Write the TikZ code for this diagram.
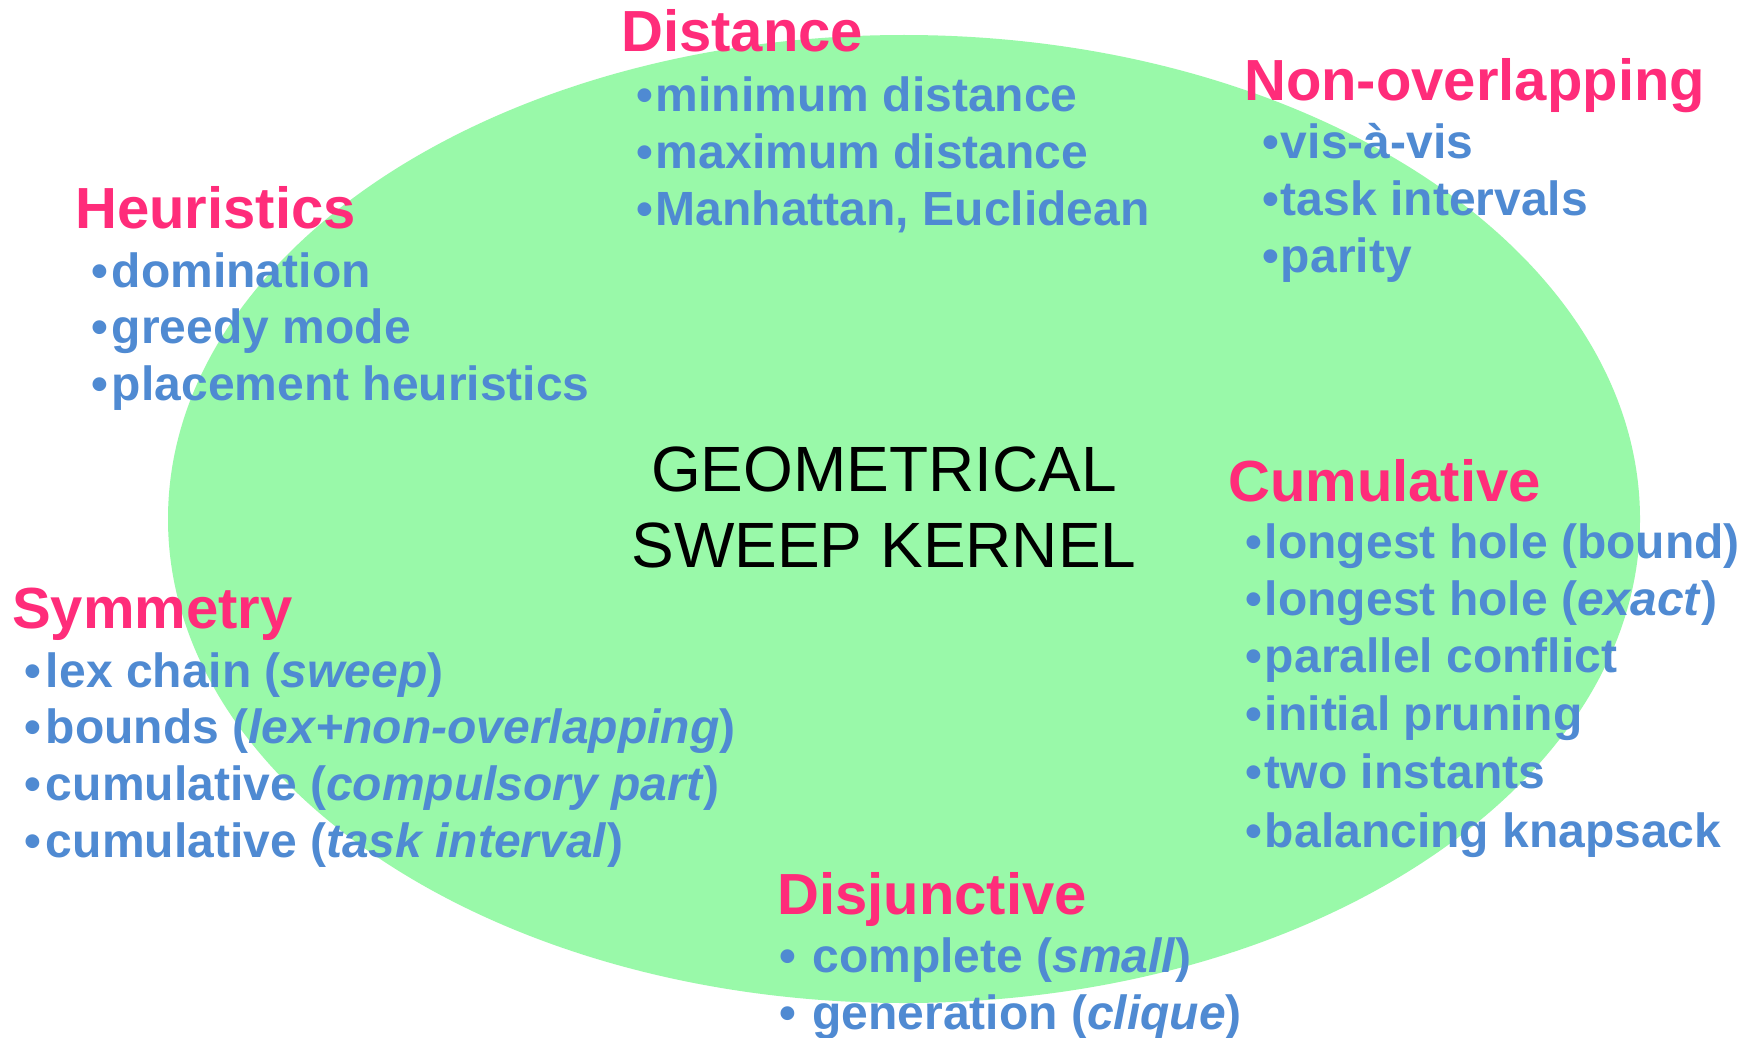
\documentclass[tikz,border=0pt]{standalone}
\usepackage{fontspec}
\setmainfont{Liberation Sans}
\definecolor{headpink}{HTML}{FF2C7A}
\definecolor{itemblue}{HTML}{4F8AD2}
\definecolor{kernelgreen}{HTML}{99F9A9}
% bullet followed by a small gap
\newcommand\itemdot[1]{•\kern#1pt\relax}
\tikzset{
  head/.style={anchor=base west, inner sep=0pt, text=headpink,
    font=\fontsize{58}{60}\selectfont\bfseries},
  item/.style={anchor=base west, inner sep=0pt, text=itemblue,
    font=\fontsize{48}{50}\selectfont\bfseries},
  kernel/.style={anchor=base, inner sep=0pt, text=black,
    font=\fontsize{64}{76}\selectfont}
}
\begin{document}
\begin{tikzpicture}[x=1pt,y=-1pt]
\useasboundingbox (0,0) rectangle (1748,1038);
\fill[white] (0,0) rectangle (1748,1038);

% kernel region
\fill[kernelgreen] (904,519) ellipse [x radius=736pt, y radius=484pt];

% centre title
\node[kernel] (k1) at (884,491) {GEOMETRICAL};
\node[kernel] (k2) at (884,567) {SWEEP KERNEL};

% Distance
\node[head] (dist) at (621,52) {Distance};
\node[item] (dist1) at (636,112) {\itemdot{3}minimum distance};
\node[item] (dist2) at (636,168) {\itemdot{3}maximum distance};
\node[item] (dist3) at (636,225) {\itemdot{3}Manhattan, Euclidean};

% Non-overlapping
\node[head] (nonov) at (1244,101) {Non-overlapping};
\node[item] (nonov1) at (1262,158) {\itemdot{2}vis-à-vis};
\node[item] (nonov2) at (1262,215) {\itemdot{2}task intervals};
\node[item] (nonov3) at (1262,272) {\itemdot{2}parity};

% Heuristics
\node[head] (heur) at (75,228) {Heuristics};
\node[item] (heur1) at (91,287) {\itemdot{4}domination};
\node[item] (heur2) at (91,343) {\itemdot{4}greedy mode};
\node[item] (heur3) at (91,400) {\itemdot{4}placement heuristics};

% Symmetry
\node[head] (sym) at (12,628) {Symmetry};
\node[item] (sym1) at (24,687) {\itemdot{5}lex chain (\textit{sweep})};
\node[item] (sym2) at (24,743) {\itemdot{5}bounds (\textit{lex+non-overlapping})};
\node[item] (sym3) at (24,800) {\itemdot{5}cumulative (\textit{compulsory part})};
\node[item] (sym4) at (24,857) {\itemdot{5}cumulative (\textit{task interval})};

% Cumulative
\node[head] (cumul) at (1228,501) {Cumulative};
\node[item] (cumul1) at (1245,558) {\itemdot{3}longest hole (bound)};
\node[item] (cumul2) at (1245,615) {\itemdot{3}longest hole (\textit{exact})};
\node[item] (cumul3) at (1245,672) {\itemdot{3}parallel conflict};
\node[item] (cumul4) at (1245,730) {\itemdot{3}initial pruning};
\node[item] (cumul5) at (1245,788) {\itemdot{3}two instants};
\node[item] (cumul6) at (1245,847) {\itemdot{3}balancing knapsack};

% Disjunctive
\node[head] (disj) at (777,914) {Disjunctive};
\node[item] (disj1) at (779,972) {\itemdot{3}\ complete (\textit{small})};
\node[item] (disj2) at (779,1029) {\itemdot{3}\ generation (\textit{clique})};
\end{tikzpicture}
\end{document}
